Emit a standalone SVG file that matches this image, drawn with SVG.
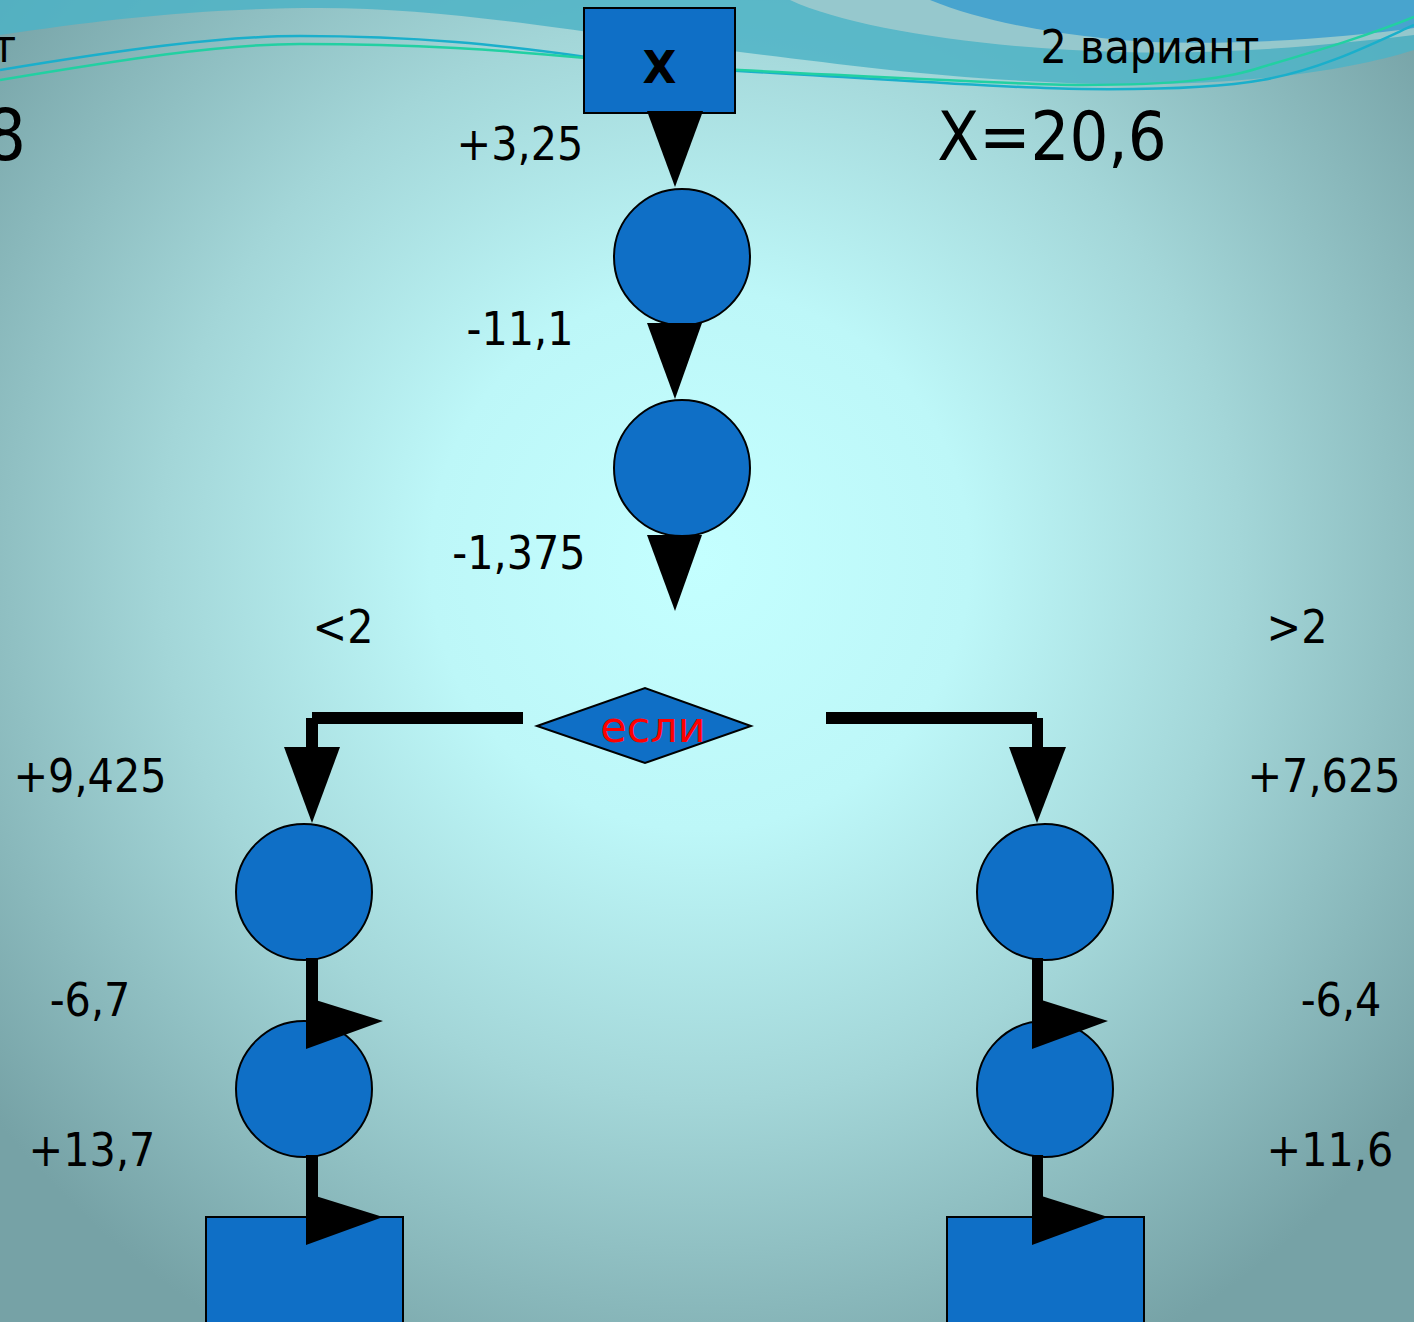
<svg xmlns="http://www.w3.org/2000/svg" width="1414" height="1322" viewBox="0 0 1414 1322">
<defs>
<radialGradient id="bg" cx="700" cy="560" r="900" gradientUnits="userSpaceOnUse">
<stop offset="0" stop-color="#C4FFFF"/>
<stop offset="0.3" stop-color="#BDF7F8"/>
<stop offset="0.6" stop-color="#A3D6D8"/>
<stop offset="1" stop-color="#76A2A6"/>
</radialGradient>
<style>
.n{fill:#0F6FC6;stroke:#000;stroke-width:2}
.a{fill:#000;stroke:none}
.t{font-family:"DejaVu Sans Condensed","DejaVu Sans",sans-serif;font-size:46px;fill:#000}
</style>
</defs>
<rect width="1414" height="1322" fill="url(#bg)"/>
<g id="waves">
<path d="M0,35 C100,20 200,8 320,8 C450,8 560,30 740,52 C850,65 950,80 1100,84 C1250,86 1350,70 1414,50 V0 H0 Z" fill="#4DB3C6" opacity="0.85"/>
<path d="M790,0 C850,28 980,48 1120,52 C1230,55 1330,45 1414,35 V0 Z" fill="#9CCACD" opacity="0.9"/>
<path d="M930,0 C990,25 1080,38 1150,42 C1250,45 1340,38 1414,28 V0 Z" fill="#48A4CE"/>
<path d="M0,70 C120,50 220,36 300,36 C420,36 500,45 586,57 C640,64 690,68 739,71 C900,80 1000,88 1082,89 C1180,90 1230,86 1262,80 C1320,70 1370,45 1414,25" fill="none" stroke="#1AAFCB" stroke-width="2.5"/>
<path d="M0,80 C120,60 220,44 300,44 C420,44 500,50 586,58 C640,64 690,67 739,70 C900,78 1000,84 1082,85 C1180,85 1230,78 1262,67 C1320,50 1370,35 1414,17" fill="none" stroke="#22D0A2" stroke-width="2.5"/>
</g>
<g id="labels" class="t">
<text x="16" y="62" text-anchor="end">т</text>
<text x="26" y="160" text-anchor="end" style="font-size:72px">8</text>
<text x="1150" y="63" text-anchor="middle">2 вариант</text>
<text x="1052" y="160" text-anchor="middle" style="font-size:68px">X=20,6</text>
<text x="520" y="160" text-anchor="middle">+3,25</text>
<text x="520" y="345" text-anchor="middle">-11,1</text>
<text x="519" y="569" text-anchor="middle">-1,375</text>
<text x="343" y="643" text-anchor="middle">&lt;2</text>
<text x="1297" y="643" text-anchor="middle">&gt;2</text>
<text x="90" y="792" text-anchor="middle">+9,425</text>
<text x="1324" y="792" text-anchor="middle">+7,625</text>
<text x="90" y="1016" text-anchor="middle">-6,7</text>
<text x="1341" y="1016" text-anchor="middle">-6,4</text>
<text x="92" y="1166" text-anchor="middle">+13,7</text>
<text x="1330" y="1166" text-anchor="middle">+11,6</text>
</g>
<g id="start">
<rect class="n" x="584" y="8" width="151" height="105"/>
<text x="659.5" y="83" text-anchor="middle" style="font-family:'DejaVu Sans','Liberation Sans',sans-serif;font-weight:bold;font-size:44px">X</text>
</g>
<g id="c1"><circle class="n" cx="682" cy="257" r="68"/></g>
<g id="c2"><circle class="n" cx="682" cy="468" r="68"/></g>
<g id="decision">
<polygon class="n" points="537,726 645,688 751,726 645,763"/>
<text x="653" y="742" text-anchor="middle" style="font-family:'DejaVu Sans',sans-serif;font-size:43px;fill:#FF0000">если</text>
</g>
<g id="l1"><circle class="n" cx="304" cy="892" r="68"/></g>
<g id="l2"><circle class="n" cx="304" cy="1089" r="68"/></g>
<g id="lend"><rect class="n" x="206" y="1217" width="197" height="120"/></g>
<g id="r1"><circle class="n" cx="1045" cy="892" r="68"/></g>
<g id="r2"><circle class="n" cx="1045" cy="1089" r="68"/></g>
<g id="rend"><rect class="n" x="947" y="1217" width="197" height="120"/></g>
<g id="connectors" class="a">
<polygon points="647,111 703,111 675,187"/>
<polygon points="647,323 702,323 675,399"/>
<polygon points="647,535 702,535 675,611"/>
<polygon points="312,712 523,712 523,724 318,724 318,748 306,748 306,718 312,718"/>
<polygon points="284,747 340,747 312,823"/>
<polygon points="826,712 1037,712 1037,718 1043,718 1043,748 1032,748 1032,724 826,724"/>
<polygon points="1009,747 1066,747 1037,823"/>
<rect x="306" y="958" width="12" height="45"/>
<polygon points="306,997 383,1021 306,1049"/>
<rect x="306" y="1155" width="12" height="42"/>
<polygon points="306,1193 383,1217 306,1245"/>
<rect x="1032" y="958" width="11" height="45"/>
<polygon points="1032,997 1108,1021 1032,1049"/>
<rect x="1032" y="1155" width="11" height="42"/>
<polygon points="1032,1193 1108,1217 1032,1245"/>
</g>
</svg>
